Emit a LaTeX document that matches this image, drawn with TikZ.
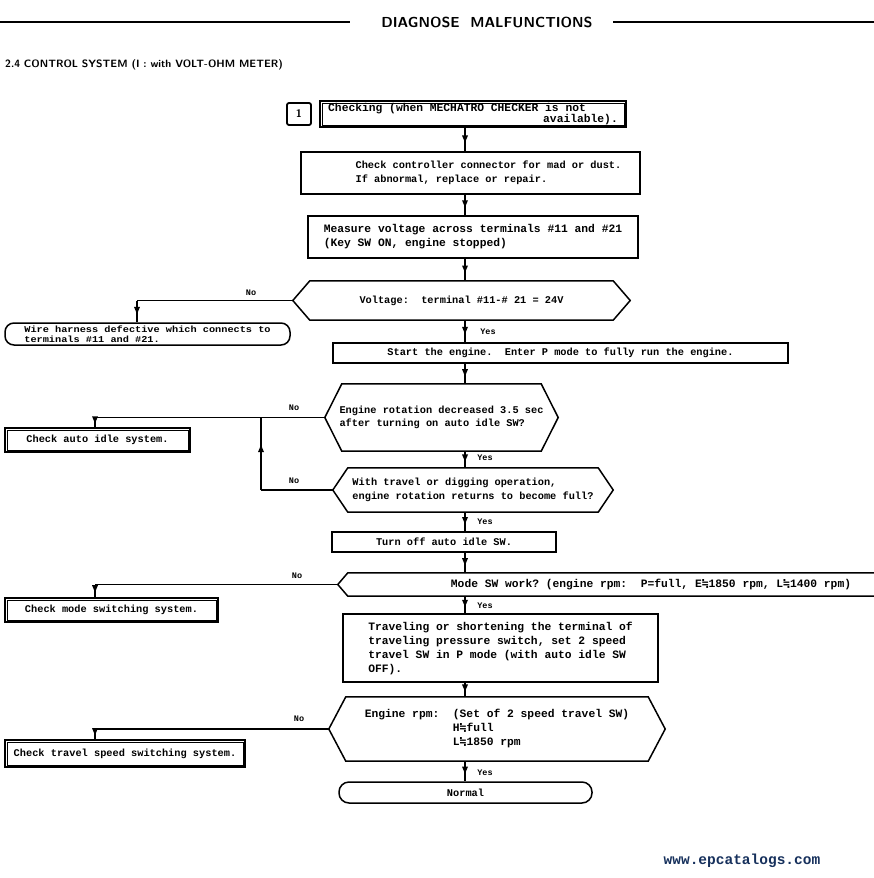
\documentclass[tikz,border=0pt]{standalone}
\usepackage{fontspec}
\setmainfont{Liberation Sans}
\setmonofont{Liberation Mono}
\newfontfamily\symf{DejaVu Sans Mono}
\newfontfamily\wmono[FakeStretch=1.14]{Liberation Mono}
\usetikzlibrary{calc,arrows.meta}
\definecolor{wm}{RGB}{22,48,92}
\newcommand{\apx}{{\symf\char"2252}}
\newcommand{\hexdraw}[2]{\draw[line width=1.5pt] ([xshift=#2]#1.north west) -- ([xshift=-#2]#1.north east) -- (#1.east) -- ([xshift=-#2]#1.south east) -- ([xshift=#2]#1.south west) -- (#1.west) -- cycle;}
\newcommand{\inbox}[1]{\draw[line width=0.8pt] ([shift={(3.2pt,3.2pt)}]#1.south west) rectangle ([shift={(-3.2pt,-3.2pt)}]#1.north east);}
\newcommand{\cn}[3]{\coordinate (#1s) at (#2); \coordinate (#1e) at (#3);
  \draw[conn] (#1s) -- (#1e);
  \fill ($(#1s)!0.62!(#1e)$) coordinate (#1t);
  \fill ($(#1t)!7pt!(#1s)!3pt!90:(#1s)$) -- (#1t) -- ($(#1t)!7pt!(#1s)!3pt!-90:(#1s)$) -- cycle;}
\tikzset{
  txa/.style={font=\ttfamily\bfseries\fontsize{10.3}{13.5}\selectfont},
  txb/.style={font=\ttfamily\bfseries\fontsize{11.3}{14}\selectfont},
  box/.style={draw, line width=1.5pt, inner sep=0pt, align=left},
  dbox/.style={draw, line width=2.2pt, inner sep=0pt, align=center},
  hexs/.style={inner sep=0pt, align=left},
  conn/.style={line width=1.3pt},
  lab/.style={font=\ttfamily\bfseries\fontsize{8.5}{10}\selectfont, inner sep=0pt},
}
\begin{document}
\begin{tikzpicture}[x=1pt,y=-1pt]
\clip (0,0) rectangle (874,878);
\fill[white] (0,0) rectangle (874,878);
% header
\node[font=\sffamily\bfseries\fontsize{14.5}{16}\selectfont, inner sep=0pt] (title) at (487,22) {DIAGNOSE~~MALFUNCTIONS};
\draw[line width=1.8pt] (0,22) -- (350,22);
\draw[line width=1.8pt] (613,22) -- (874,22);
\node[anchor=west, inner sep=0pt, font=\sffamily\bfseries\fontsize{10.6}{12}\selectfont] (sub) at (5,65) {2.4 CONTROL SYSTEM (I : with VOLT-OHM METER)};
% axis
\coordinate (ax) at (465,0);
\coordinate (c1) at (137,0);
\coordinate (c2) at (95,0);
\coordinate (c3) at (261,0);
% nodes
\node[draw, line width=1.8pt, rounded corners=2pt, minimum width=24pt, minimum height=22pt, inner sep=0pt, font=\sffamily\bfseries\fontsize{11}{13}\selectfont] (n1) at (299,114) {1};
\node[dbox, font=\ttfamily\bfseries\fontsize{11.3}{10.5}\selectfont, align=left, minimum width=306pt, minimum height=26pt] (chk) at (473,114) {Checking (when MECHATRO CHECKER is not\\\hspace*{215pt}available).};
\inbox{chk}
\node[box, txa, minimum width=339pt, minimum height=42pt] (b2) at (470.5,173) {\hspace*{36pt}Check controller connector for mad or dust.\\\hspace*{36pt}If abnormal, replace or repair.};
\node[box, txb, line width=2.1pt, minimum width=330pt, minimum height=42pt] (b3) at (473,237) {Measure voltage across terminals \#11 and \#21\\(Key SW ON, engine stopped)};
\node[hexs, txa, minimum width=337pt, minimum height=39pt] (h1) at (461.5,300.5) {Voltage:~~terminal \#11-\# 21 = 24V};
\hexdraw{h1}{17}
\node[box, rounded corners=9pt, minimum width=285pt, minimum height=22pt, font=\wmono\bfseries\fontsize{9}{9.5}\selectfont] (wire) at (147.5,334) {Wire harness defective which connects to\\terminals \#11 and \#21.};
\node[box, txa, minimum width=455pt, minimum height=20pt] (st) at (560.5,353) {Start the engine.~~Enter P mode to fully run the engine.};
\node[hexs, txa, minimum width=233pt, minimum height=67pt] (h2) at (441.5,417.5) {Engine rotation decreased 3.5 sec\\after turning on auto idle SW?};
\hexdraw{h2}{17}
\node[dbox, txa, minimum width=185pt, minimum height=24pt] (ai) at (97.5,440) {Check auto idle system.};
\inbox{ai}
\node[hexs, txa, minimum width=280pt, minimum height=44pt] (h3) at (473,490) {With travel or digging operation,\\engine rotation returns to become full?};
\hexdraw{h3}{15}
\node[box, txa, minimum width=224pt, minimum height=20pt] (off) at (444,542) {Turn off auto idle SW.};
\node[hexs, txb, minimum width=626pt, minimum height=23pt] (h4) at (651,584.5) {Mode SW work? (engine rpm:~~P=full, E\apx1850 rpm, L\apx1400 rpm)};
\hexdraw{h4}{10}
\node[dbox, txa, minimum width=213pt, minimum height=24pt] (md) at (111.5,610) {Check mode switching system.};
\inbox{md}
\node[box, txb, minimum width=315pt, minimum height=68pt] (trv) at (500.5,648) {Traveling or shortening the terminal of\\traveling pressure switch, set 2 speed\\travel SW in P mode (with auto idle SW\\OFF).};
\node[hexs, txb, minimum width=336pt, minimum height=64pt] (h5) at (497,729) {Engine rpm:~~(Set of 2 speed travel SW)\\\phantom{Engine rpm:~~}H\apx full\\\phantom{Engine rpm:~~}L\apx1850 rpm};
\hexdraw{h5}{17}
\node[dbox, txa, minimum width=240pt, minimum height=27pt] (ts) at (125,753.5) {Check travel speed switching system.};
\inbox{ts}
\node[box, rounded corners=10pt, txa, minimum width=253pt, minimum height=21pt] (nrm) at (465.5,792.5) {Normal};
% main connectors
\cn{m1}{chk.south -| ax}{b2.north -| ax}
\cn{m2}{b2.south -| ax}{b3.north -| ax}
\cn{m3}{b3.south -| ax}{h1.north -| ax}
\cn{m4}{h1.south -| ax}{st.north -| ax}
\cn{m5}{st.south -| ax}{h2.north -| ax}
\cn{m6}{h2.south -| ax}{h3.north -| ax}
\cn{m7}{h3.south -| ax}{off.north -| ax}
\cn{m8}{off.south -| ax}{h4.north -| ax}
\cn{m9}{h4.south -| ax}{trv.north -| ax}
\cn{m10}{trv.south -| ax}{h5.north -| ax}
\cn{m11}{h5.south -| ax}{nrm.north -| ax}
% branches
\draw[conn] (h1.west) -- (h1.west -| c1);
\cn{b1}{h1.west -| c1}{wire.north -| c1}
\draw[conn] (h2.west) -- (h2.west -| c2);
\cn{b2}{h2.west -| c2}{ai.north -| c2}
\draw[conn] (h3.west) -- (h3.west -| c3);
\cn{b3}{h3.west -| c3}{h2.west -| c3}
\draw[conn] (h4.west) -- (h4.west -| c2);
\cn{b4}{h4.west -| c2}{md.north -| c2}
\draw[conn] (h5.west) -- (h5.west -| c2);
\cn{b5}{h5.west -| c2}{ts.north -| c2}
% labels
\node[lab] (no1) at (251,293) {No};
\node[lab] (no2) at (294,408) {No};
\node[lab] (no3) at (294,481) {No};
\node[lab] (no4) at (297,576) {No};
\node[lab] (no5) at (299,719) {No};
\node[lab] (y1) at (488,332) {Yes};
\node[lab] (y2) at (485,458) {Yes};
\node[lab] (y3) at (485,522) {Yes};
\node[lab] (y4) at (485,606) {Yes};
\node[lab] (y5) at (485,773) {Yes};
% watermark
\node[font=\ttfamily\bfseries\fontsize{14.5}{16}\selectfont, text=wm, inner sep=0pt] (url) at (742,861) {www.epcatalogs.com};
\end{tikzpicture}
\end{document}
